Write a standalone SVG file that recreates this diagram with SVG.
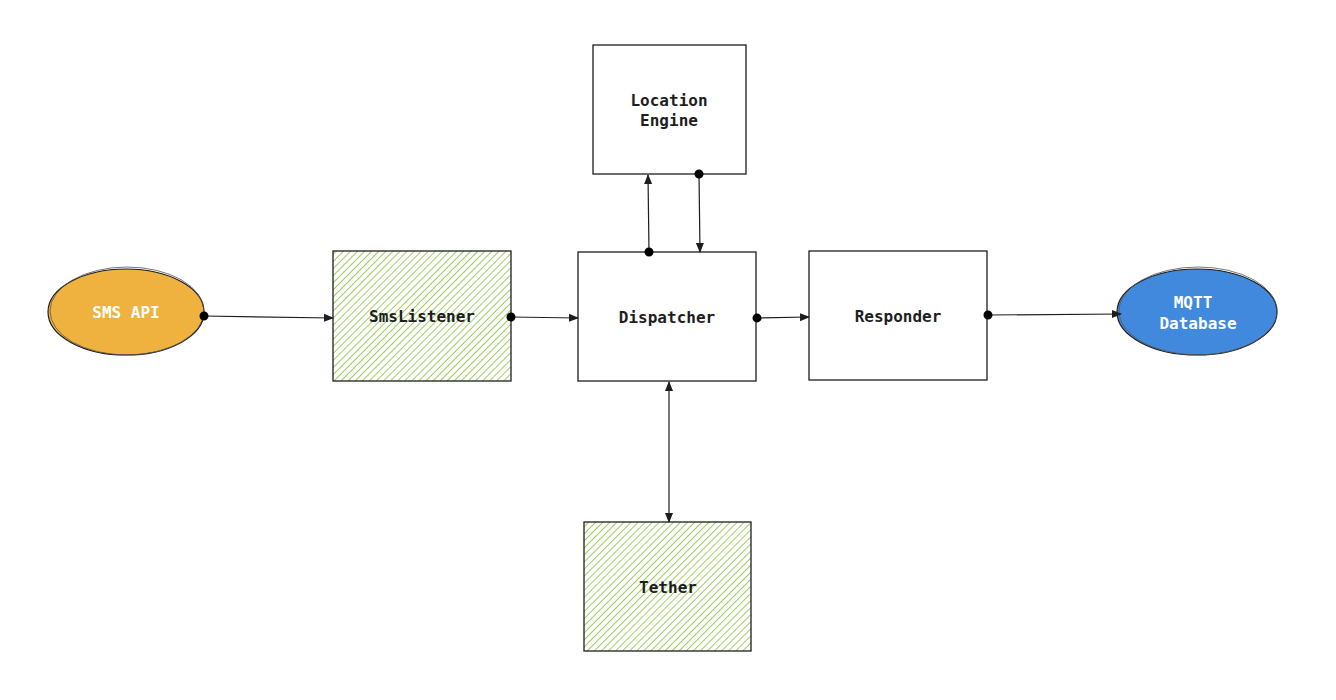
<svg xmlns="http://www.w3.org/2000/svg" width="1336" height="700" viewBox="0 0 1336 700">
<defs>
<pattern id="hatch" patternUnits="userSpaceOnUse" width="5" height="5" patternTransform="rotate(45)">
<line x1="0" y1="0" x2="0" y2="5" stroke="#9fcd5f" stroke-width="2"/>
</pattern>
<marker id="arr" viewBox="0 0 10 10" refX="9" refY="5" markerWidth="10" markerHeight="10" markerUnits="userSpaceOnUse" orient="auto-start-reverse">
<path d="M0,1 L10,5 L0,9 Z" fill="#1e1e1e"/>
</marker>
<marker id="dot" viewBox="0 0 10 10" refX="5" refY="5" markerWidth="10" markerHeight="10" markerUnits="userSpaceOnUse" orient="auto">
<circle cx="5" cy="5" r="4.5" fill="#000"/>
</marker>
</defs>
<style>
.box{stroke:#1e1e1e;stroke-width:1.3;fill:#fff}
.hatched{stroke:#1e1e1e;stroke-width:1.3;fill:url(#hatch)}
.lbl{font-family:"DejaVu Sans Mono","Liberation Mono",monospace;font-weight:bold;font-size:16px;text-anchor:middle;fill:#1e1e1e}
.wl{fill:#fff}
.conn{stroke:#1e1e1e;stroke-width:1.2;fill:none}
</style>
<rect width="1336" height="700" fill="#fff"/>
<g id="sms-api">
<ellipse cx="126" cy="312" rx="78" ry="43" fill="#efb23f" stroke="#1e1e1e" stroke-width="1.2"/>
<ellipse cx="127" cy="311" rx="77" ry="44" fill="none" stroke="#555" stroke-width="0.8"/>
<text class="lbl wl" x="126" y="318">SMS API</text>
</g>
<g id="smslistener">
<rect class="hatched" x="333" y="251" width="178" height="130"/>
<text class="lbl" x="422" y="322">SmsListener</text>
</g>
<g id="dispatcher">
<rect class="box" x="578" y="252" width="178" height="129"/>
<text class="lbl" x="667" y="323">Dispatcher</text>
</g>
<g id="location-engine">
<rect class="box" x="593" y="45" width="153" height="129"/>
<text class="lbl" x="669" y="106">Location</text>
<text class="lbl" x="669" y="126">Engine</text>
</g>
<g id="responder">
<rect class="box" x="809" y="251" width="178" height="129"/>
<text class="lbl" x="898" y="322">Responder</text>
</g>
<g id="mqtt-database">
<ellipse cx="1197" cy="312" rx="80" ry="43" fill="#4189dd" stroke="#1e1e1e" stroke-width="1.2"/>
<ellipse cx="1198" cy="311" rx="79" ry="44" fill="none" stroke="#555" stroke-width="0.8"/>
<text class="lbl wl" x="1193" y="308">MQTT</text>
<text class="lbl wl" x="1198" y="329">Database</text>
</g>
<g id="tether">
<rect class="hatched" x="584" y="522" width="167" height="129"/>
<text class="lbl" x="668" y="593">Tether</text>
</g>
<g id="connectors">
<path class="conn" d="M204,316 L333,318" marker-start="url(#dot)" marker-end="url(#arr)"/>
<path class="conn" d="M511,317 L578,318" marker-start="url(#dot)" marker-end="url(#arr)"/>
<path class="conn" d="M757,318 L809,317" marker-start="url(#dot)" marker-end="url(#arr)"/>
<path class="conn" d="M988,315 L1121,314" marker-start="url(#dot)" marker-end="url(#arr)"/>
<path class="conn" d="M649,252 L648,175" marker-start="url(#dot)" marker-end="url(#arr)"/>
<path class="conn" d="M699,174 L700,252" marker-start="url(#dot)" marker-end="url(#arr)"/>
<path class="conn" d="M669,382 L669,522" marker-start="url(#arr)" marker-end="url(#arr)"/>
</g>
</svg>
